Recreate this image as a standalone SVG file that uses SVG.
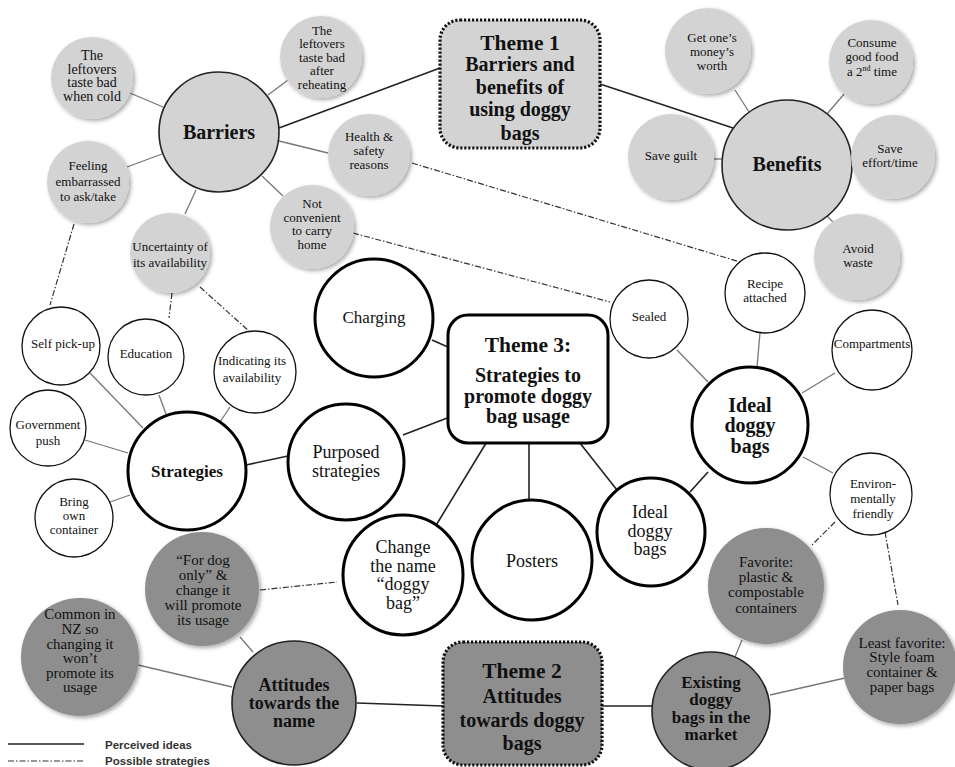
<svg xmlns="http://www.w3.org/2000/svg" width="955" height="767" viewBox="0 0 955 767">
<defs>
<filter id="sh" x="-20%" y="-20%" width="150%" height="150%">
<feGaussianBlur in="SourceAlpha" stdDeviation="2"/>
<feOffset dx="2" dy="2" result="b"/>
<feComponentTransfer><feFuncA type="linear" slope="0.35"/></feComponentTransfer>
<feMerge><feMergeNode/><feMergeNode in="SourceGraphic"/></feMerge>
</filter>
<style>
.lg{fill:#d3d3d3;filter:url(#sh)}
.lgb{fill:#d3d3d3;stroke:#222;stroke-width:1.6}
.dg{fill:#8e8e8e;filter:url(#sh)}
.dgb{fill:#8e8e8e;stroke:#222;stroke-width:1.6}
.w{fill:#fff;stroke:#111;stroke-width:1.3}
.wb{fill:#fff;stroke:#000;stroke-width:3}
text{font-family:"Liberation Serif","Times New Roman",serif;text-anchor:middle;fill:#111}
.t13{font-size:13px}
.t14{font-size:14px}
.t15{font-size:15px}
.t17{font-size:17px}
.t18{font-size:18px}
.b{font-weight:bold}
.c{stroke:#777;stroke-width:1.3;fill:none}
.ck{stroke:#222;stroke-width:1.6;fill:none}
.dd{stroke:#333;stroke-width:1.2;fill:none;stroke-dasharray:6 2 1.5 2}
.leg{font-family:"Liberation Sans",Arial,sans-serif;font-weight:bold;font-size:11.5px;text-anchor:start;fill:#333}
</style>
</defs>
<rect width="955" height="767" fill="#fff"/>

<g id="connectors">
<line class="c" x1="130" y1="93" x2="163" y2="107"/>
<line class="c" x1="268" y1="95" x2="288" y2="80"/>
<line class="ck" x1="279" y1="128" x2="440" y2="68"/>
<line class="c" x1="279" y1="141" x2="328" y2="153"/>
<line class="c" x1="262" y1="176" x2="283" y2="196"/>
<line class="c" x1="127" y1="167" x2="162" y2="154"/>
<line class="c" x1="196" y1="190" x2="185" y2="214"/>
<line class="ck" x1="600" y1="84" x2="733" y2="128"/>
<line class="c" x1="735" y1="90" x2="749" y2="112"/>
<line class="c" x1="845" y1="93" x2="827" y2="114"/>
<line class="c" x1="714" y1="159" x2="722" y2="159"/>
<line class="c" x1="852" y1="160" x2="853" y2="160"/>
<line class="c" x1="827" y1="216" x2="834" y2="223"/>
<line class="ck" x1="432" y1="340" x2="457" y2="351"/>
<line class="ck" x1="403" y1="435" x2="468" y2="410"/>
<line class="ck" x1="491" y1="435" x2="435" y2="527"/>
<line class="ck" x1="529" y1="443" x2="529" y2="500"/>
<line class="ck" x1="572" y1="433" x2="617" y2="490"/>
<line class="ck" x1="246" y1="465" x2="288" y2="456"/>
<line class="c" x1="90" y1="373" x2="143" y2="428"/>
<line class="c" x1="159" y1="395" x2="166" y2="414"/>
<line class="c" x1="230" y1="407" x2="220" y2="422"/>
<line class="c" x1="85" y1="440" x2="128" y2="453"/>
<line class="c" x1="110" y1="502" x2="130" y2="495"/>
<line class="c" x1="677" y1="350" x2="708" y2="382"/>
<line class="c" x1="760" y1="333" x2="757" y2="367"/>
<line class="c" x1="835" y1="373" x2="802" y2="393"/>
<line class="c" x1="803" y1="457" x2="833" y2="473"/>
<line class="ck" x1="708" y1="472" x2="690" y2="492"/>
<line class="c" x1="240" y1="637" x2="253" y2="652"/>
<line class="c" x1="138" y1="665" x2="232" y2="687"/>
<line class="ck" x1="357" y1="703" x2="443" y2="706"/>
<line class="ck" x1="602" y1="706" x2="653" y2="706"/>
<line class="c" x1="742" y1="640" x2="735" y2="657"/>
<line class="c" x1="770" y1="695" x2="845" y2="678"/>
<line class="dd" x1="74" y1="224" x2="50" y2="305"/>
<line class="dd" x1="172" y1="293" x2="169" y2="318"/>
<line class="dd" x1="200" y1="287" x2="250" y2="332"/>
<line class="dd" x1="412" y1="163" x2="740" y2="262"/>
<line class="dd" x1="353" y1="233" x2="610" y2="302"/>
<line class="dd" x1="260" y1="590" x2="337" y2="582"/>
<line class="dd" x1="835" y1="522" x2="812" y2="545"/>
<line class="dd" x1="885" y1="532" x2="898" y2="605"/>
</g>

<g id="theme1">
<rect x="440" y="20" width="160" height="128" rx="20" fill="#d3d3d3" stroke="#111" stroke-width="3.2" stroke-dasharray="2.2 1.8"/>
<text class="b" x="520" y="50" font-size="21.5">Theme 1</text>
<text class="b" x="520" y="71" font-size="20">Barriers and</text>
<text class="b" x="520" y="94" font-size="20">benefits of</text>
<text class="b" x="520" y="116" font-size="20">using doggy</text>
<text class="b" x="520" y="140" font-size="20">bags</text>
</g>

<g id="barriers"><circle class="lgb" cx="219" cy="132" r="60"/><text class="b" x="219" y="139" font-size="20">Barriers</text></g>
<g id="leftovers-cold"><circle class="lg" cx="92" cy="78" r="41"/><text class="t14"><tspan x="92" y="60">The</tspan><tspan x="92" y="74">leftovers</tspan><tspan x="92" y="87">taste bad</tspan><tspan x="92" y="101">when cold</tspan></text></g>
<g id="leftovers-reheat"><circle class="lg" cx="321" cy="57" r="41"/><text class="t13"><tspan x="322" y="35">The</tspan><tspan x="322" y="48">leftovers</tspan><tspan x="322" y="62">taste bad</tspan><tspan x="322" y="75">after</tspan><tspan x="322" y="89">reheating</tspan></text></g>
<g id="feeling"><circle class="lg" cx="88" cy="182" r="41"/><text class="t13"><tspan x="88" y="170">Feeling</tspan><tspan x="88" y="186">embarrassed</tspan><tspan x="88" y="201">to ask/take</tspan></text></g>
<g id="uncertainty"><circle class="lg" cx="170" cy="253" r="40"/><text class="t13"><tspan x="170" y="251">Uncertainty of</tspan><tspan x="170" y="267">its availability</tspan></text></g>
<g id="health"><circle class="lg" cx="369" cy="155" r="41"/><text class="t13"><tspan x="369" y="141">Health &amp;</tspan><tspan x="369" y="155">safety</tspan><tspan x="369" y="169">reasons</tspan></text></g>
<g id="not-convenient"><circle class="lg" cx="312" cy="227" r="42"/><text class="t13"><tspan x="312" y="208">Not</tspan><tspan x="312" y="222">convenient</tspan><tspan x="312" y="235">to carry</tspan><tspan x="312" y="249">home</tspan></text></g>

<g id="benefits"><circle class="lgb" cx="787" cy="165" r="65"/><text class="b" x="787" y="171" font-size="20">Benefits</text></g>
<g id="money"><circle class="lg" cx="708" cy="51" r="43"/><text class="t13"><tspan x="712" y="42">Get one’s</tspan><tspan x="712" y="56">money’s</tspan><tspan x="712" y="70">worth</tspan></text></g>
<g id="consume"><circle class="lg" cx="871" cy="62" r="42"/><text class="t13"><tspan x="872" y="47">Consume</tspan><tspan x="872" y="61">good food</tspan><tspan x="872" y="76">a 2<tspan font-size="8" dy="-5">nd</tspan><tspan dy="5"> time</tspan></tspan></text></g>
<g id="save-guilt"><circle class="lg" cx="671" cy="157" r="43"/><text class="t13" x="671" y="160">Save guilt</text></g>
<g id="save-effort"><circle class="lg" cx="893" cy="157" r="42"/><text class="t13"><tspan x="890" y="153">Save</tspan><tspan x="890" y="167">effort/time</tspan></text></g>
<g id="avoid-waste"><circle class="lg" cx="857" cy="257" r="43"/><text class="t13"><tspan x="858" y="253">Avoid</tspan><tspan x="858" y="267">waste</tspan></text></g>

<g id="theme3">
<rect x="448" y="315" width="160" height="128" rx="20" fill="#fff" stroke="#000" stroke-width="3"/>
<text class="b" x="528" y="352" font-size="21.5">Theme 3:</text>
<text class="b" x="528" y="382" font-size="20">Strategies to</text>
<text class="b" x="528" y="403" font-size="20">promote doggy</text>
<text class="b" x="528" y="423" font-size="20">bag usage</text>
</g>
<g id="charging"><circle class="wb" cx="374" cy="318" r="59"/><text x="374" y="323" font-size="17">Charging</text></g>
<g id="purposed"><circle class="wb" cx="346" cy="462" r="58"/><text class="t18"><tspan x="346" y="458">Purposed</tspan><tspan x="346" y="477">strategies</tspan></text></g>
<g id="change-name"><circle class="wb" cx="403" cy="575" r="60"/><text class="t18"><tspan x="403" y="553">Change</tspan><tspan x="403" y="572">the name</tspan><tspan x="403" y="590">“doggy</tspan><tspan x="403" y="609">bag”</tspan></text></g>
<g id="posters"><circle class="wb" cx="532" cy="560" r="60"/><text class="t18" x="532" y="567">Posters</text></g>
<g id="ideal-left"><circle class="wb" cx="651" cy="532" r="54"/><text class="t18"><tspan x="650" y="518">Ideal</tspan><tspan x="650" y="537">doggy</tspan><tspan x="650" y="555">bags</tspan></text></g>

<g id="strategies"><circle class="wb" cx="187" cy="471" r="59"/><text class="b" x="187" y="477" font-size="17">Strategies</text></g>
<g id="self-pickup"><circle class="w" cx="61" cy="346" r="39"/><text class="t13" x="63" y="348">Self pick-up</text></g>
<g id="education"><circle class="w" cx="146" cy="357" r="38"/><text class="t13" x="146" y="358">Education</text></g>
<g id="indicating"><circle class="w" cx="255" cy="372" r="41"/><text class="t13"><tspan x="252" y="365">Indicating its</tspan><tspan x="252" y="382">availability</tspan></text></g>
<g id="government"><circle class="w" cx="48" cy="428" r="38"/><text class="t13"><tspan x="48" y="429">Government</tspan><tspan x="48" y="445">push</tspan></text></g>
<g id="bring-own"><circle class="w" cx="74" cy="518" r="39"/><text class="t13"><tspan x="74" y="506">Bring</tspan><tspan x="74" y="520">own</tspan><tspan x="74" y="534">container</tspan></text></g>

<g id="ideal-bags"><circle class="wb" cx="750" cy="425" r="58"/><text class="b" font-size="20"><tspan x="750" y="412">Ideal</tspan><tspan x="750" y="432">doggy</tspan><tspan x="750" y="453">bags</tspan></text></g>
<g id="sealed"><circle class="w" cx="649" cy="319" r="39"/><text class="t13" x="649" y="321">Sealed</text></g>
<g id="recipe"><circle class="w" cx="765" cy="293" r="40"/><text class="t13"><tspan x="765" y="288">Recipe</tspan><tspan x="765" y="302">attached</tspan></text></g>
<g id="compartments"><circle class="w" cx="872" cy="350" r="40"/><text class="t13" x="872" y="348">Compartments</text></g>
<g id="environ"><circle class="w" cx="871" cy="494" r="41"/><text class="t13"><tspan x="873" y="488">Environ-</tspan><tspan x="873" y="503">mentally</tspan><tspan x="873" y="518">friendly</tspan></text></g>

<g id="theme2">
<rect x="443" y="642" width="159" height="123" rx="20" fill="#8e8e8e" stroke="#111" stroke-width="3.2" stroke-dasharray="2.2 1.8"/>
<text class="b" x="522" y="678" font-size="21.5">Theme 2</text>
<text class="b" x="522" y="703" font-size="20">Attitudes</text>
<text class="b" x="522" y="727" font-size="20">towards doggy</text>
<text class="b" x="522" y="750" font-size="20">bags</text>
</g>
<g id="attitudes-name"><circle class="dgb" cx="294" cy="703" r="62"/><text class="b t18"><tspan x="294" y="691">Attitudes</tspan><tspan x="294" y="709">towards the</tspan><tspan x="294" y="727">name</tspan></text></g>
<g id="for-dog"><circle class="dg" cx="202" cy="589" r="57"/><text class="t15"><tspan x="203" y="565">“For dog</tspan><tspan x="203" y="580">only” &amp;</tspan><tspan x="203" y="595">change it</tspan><tspan x="203" y="610">will promote</tspan><tspan x="203" y="625">its usage</tspan></text></g>
<g id="common-nz"><circle class="dg" cx="80" cy="657" r="59"/><text class="t15"><tspan x="80" y="619">Common in</tspan><tspan x="80" y="634">NZ so</tspan><tspan x="80" y="649">changing it</tspan><tspan x="80" y="663">won’t</tspan><tspan x="80" y="678">promote its</tspan><tspan x="80" y="692">usage</tspan></text></g>
<g id="existing"><circle class="dgb" cx="711" cy="711" r="59"/><text class="b t17"><tspan x="711" y="688">Existing</tspan><tspan x="711" y="705">doggy</tspan><tspan x="711" y="723">bags in the</tspan><tspan x="711" y="740">market</tspan></text></g>
<g id="favorite"><circle class="dg" cx="766" cy="586" r="58"/><text class="t15"><tspan x="766" y="567">Favorite:</tspan><tspan x="766" y="582">plastic &amp;</tspan><tspan x="766" y="597">compostable</tspan><tspan x="766" y="613">containers</tspan></text></g>
<g id="least-favorite"><circle class="dg" cx="900" cy="667" r="57"/><text class="t15"><tspan x="902" y="648">Least favorite:</tspan><tspan x="902" y="662">Style foam</tspan><tspan x="902" y="677">container &amp;</tspan><tspan x="902" y="692">paper bags</tspan></text></g>

<g id="legend">
<line x1="8" y1="744" x2="84" y2="744" stroke="#222" stroke-width="1.3"/>
<line class="dd" x1="8" y1="761" x2="84" y2="761" stroke-dasharray="3 1.5 1 1.5"/>
<text class="leg" x="105" y="749">Perceived ideas</text>
<text class="leg" x="105" y="765">Possible strategies</text>
</g>
</svg>
